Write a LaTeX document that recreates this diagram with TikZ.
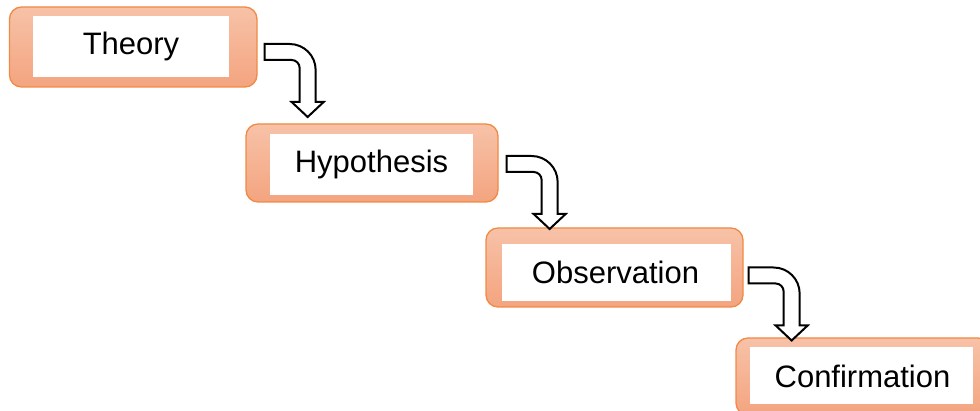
\documentclass[tikz,border=0pt]{standalone}
\usepackage{fontspec}
\setmainfont{Liberation Sans}
\usetikzlibrary{calc}
\definecolor{boxline}{HTML}{F08A45}
\definecolor{boxtop}{HTML}{F7C2A8}
\definecolor{boxbot}{HTML}{F4A47F}
\tikzset{
  stepouter/.style={draw=boxline, line width=1.3pt, rounded corners=12pt,
    top color=boxtop, bottom color=boxbot, inner sep=0pt},
  stepinner/.style={fill=white, draw=none, inner sep=0pt},
  steplabel/.style={inner sep=0pt, text height=22pt, text depth=0pt,
    font=\fontsize{31}{36}\selectfont},
  bent/.style={draw=black, fill=white, line width=2pt, line join=miter}
}
% bent arrow: horizontal tail at the left, turning down into a head
\newcommand\bentarrow[1]{%
  \draw[bent, shift={(#1)}]
    (0,8) -- (25,8) arc[start angle=90, end angle=0, radius=26]
    -- (51,-50) -- (59,-50) -- (43,-65) -- (27,-50) -- (35,-50)
    -- (35,-16) arc[start angle=0, end angle=90, radius=8]
    -- (0,-8) -- cycle;}
\begin{document}
\begin{tikzpicture}[x=1pt, y=1pt]
  \useasboundingbox (0,0) rectangle (980,-411);
  \clip (0,0) rectangle (980,-411);

  % step boxes
  \node[stepouter, minimum width=247.5pt, minimum height=80pt] (o1) at (133.25,-47) {};
  \node[stepinner, minimum width=196pt, minimum height=61pt] (w1) at (131,-46.5) {};
  \node[steplabel] (t1) at (131,-44) {Theory};

  \node[stepouter, minimum width=252pt, minimum height=78pt] (o2) at (372,-163) {};
  \node[stepinner, minimum width=203pt, minimum height=61pt] (w2) at (371.5,-164.5) {};
  \node[steplabel] (t2) at (371.5,-161.5) {Hypothesis};

  \node[stepouter, minimum width=257pt, minimum height=79pt] (o3) at (614.5,-267.5) {};
  \node[stepinner, minimum width=229pt, minimum height=57pt] (w3) at (616.5,-272.5) {};
  \node[steplabel] (t3) at (615.5,-273) {Observation};

  \node[stepouter, minimum width=254pt, minimum height=77pt] (o4) at (863,-376.5) {};
  \node[stepinner, minimum width=223pt, minimum height=57pt] (w4) at (861.5,-375.5) {};
  \node[steplabel] (t4) at (862.5,-377) {Confirmation};

  % arrows leading from each step down to the next
  \bentarrow{$(o1.east)+(7,-5)$}
  \bentarrow{$(o2.east)+(8,-1)$}
  \bentarrow{$(o3.east)+(5,-8)$}
\end{tikzpicture}
\end{document}
